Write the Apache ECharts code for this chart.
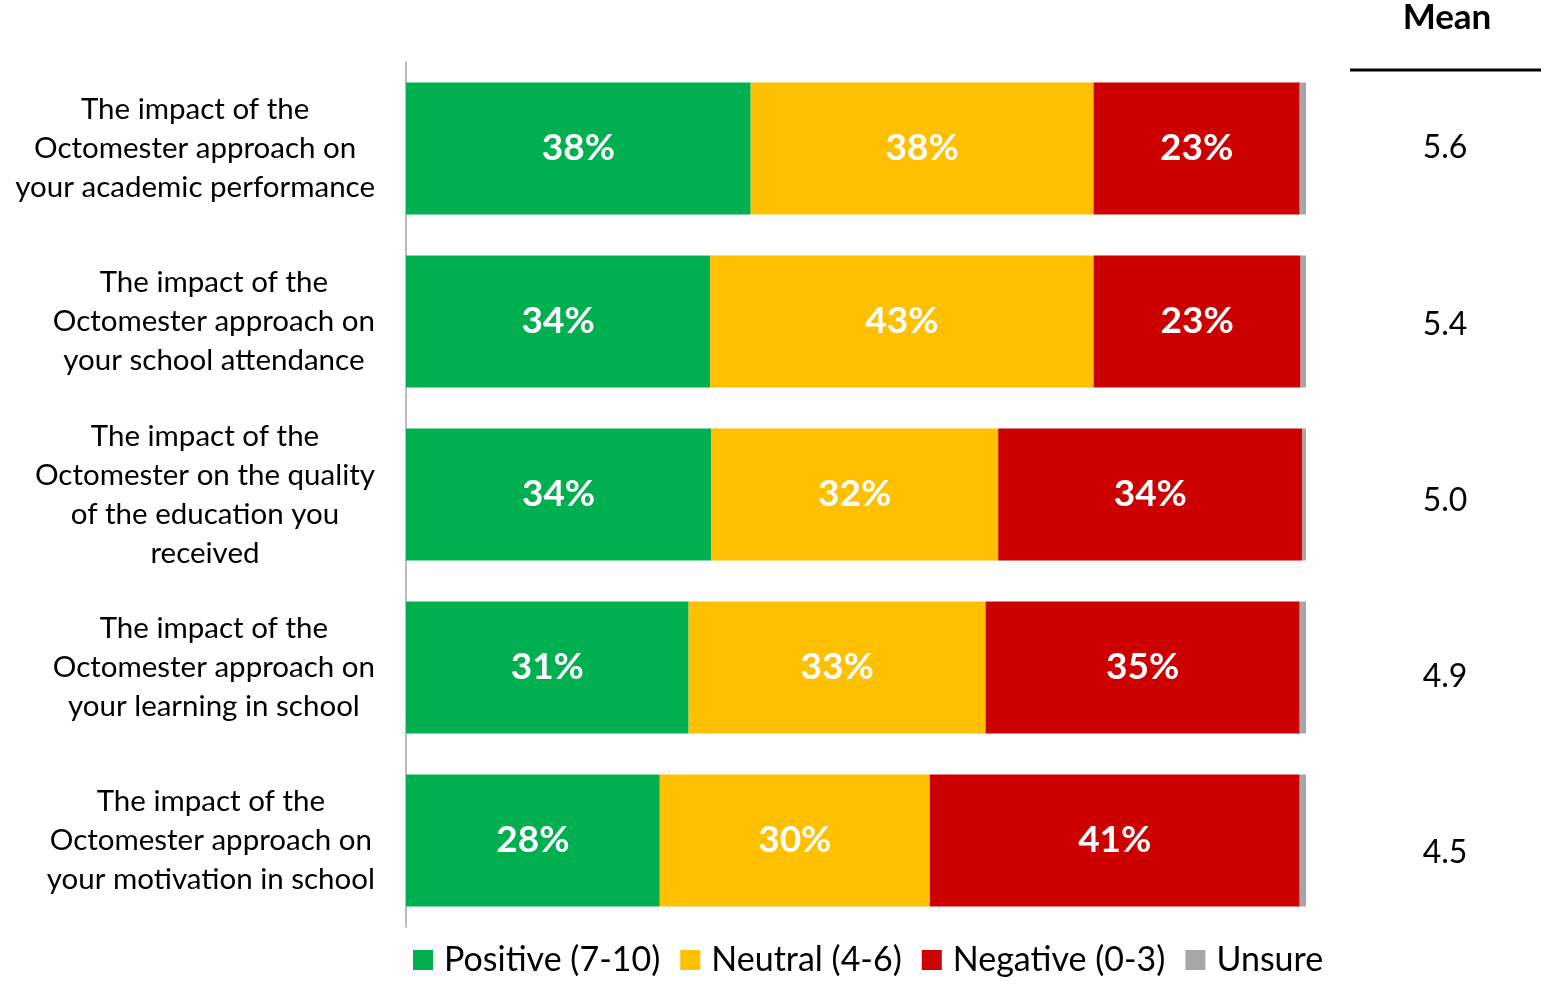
<!DOCTYPE html>
<html><head><meta charset="utf-8">
<script src="https://cdn.jsdelivr.net/npm/echarts@6/dist/echarts.min.js"></script>
<style>html,body{margin:0;padding:0;background:#fff}#c{width:1549px;height:987px}</style>
</head><body><div id="c"></div>
<script>
const categories = [
  "The impact of the\nOctomester approach on\nyour academic performance",
  "The impact of the\nOctomester approach on\nyour school attendance",
  "The impact of the\nOctomester on the quality\nof the education you\nreceived",
  "The impact of the\nOctomester approach on\nyour learning in school",
  "The impact of the\nOctomester approach on\nyour motivation in school"
];
const positive = [38.3, 33.8, 33.9, 31.4, 28.2];
const neutral  = [38.1, 42.6, 31.9, 33.0, 30.0];
const negative = [22.9, 23.0, 33.8, 34.9, 41.1];
const unsure   = [0.7, 0.6, 0.4, 0.7, 0.7];
const means    = [5.6, 5.4, 5.0, 4.9, 4.5];
const seriesNames = ["Positive (7-10)", "Neutral (4-6)", "Negative (0-3)", "Unsure"];
const colors = ["#00B050", "#FFC000", "#CC0000", "#A6A6A6"];
const FONT = "Lato";

const chart = echarts.init(document.getElementById('c'));
const barLabel = {
  show: true, position: 'inside', color: '#fff', fontWeight: 'bold',
  fontSize: 37, fontFamily: FONT,
  formatter: p => Math.round(p.value) + '%'
};
function barSeries(name, data, color, withLabel) {
  return {
    name, type: 'bar', stack: 'all', data, barCategoryGap: '23.7%',
    xAxisIndex: 0, yAxisIndex: 0,
    itemStyle: { color }, label: withLabel ? barLabel : { show: false },
    emphasis: { disabled: true }
  };
}
chart.setOption({
  animation: false,
  textStyle: { fontFamily: FONT },
  title: {
    text: 'Mean', left: 1442, top: -5, textAlign: 'center',
    textStyle: { fontSize: 35, fontWeight: 'bold', color: '#000', fontFamily: FONT }
  },
  graphic: [{
    type: 'line', shape: { x1: 1350, y1: 70, x2: 1541, y2: 70 },
    style: { stroke: '#000', lineWidth: 3 }
  }],
  legend: {
    data: seriesNames, left: 408, bottom: 5, itemWidth: 20, itemHeight: 20, itemGap: 20,
    icon: 'rect',
    textStyle: { fontSize: 34, color: '#000', fontFamily: FONT, padding: [0, 0, 0, 6] }
  },
  grid: [
    { left: 406, top: 62, width: 900, height: 865 },
    { left: 1350, top: 60, width: 191, height: 881 }
  ],
  xAxis: [
    { type: 'value', min: 0, max: 100, show: false, gridIndex: 0 },
    { type: 'value', min: 0, max: 1, show: false, gridIndex: 1 }
  ],
  yAxis: [
    {
      type: 'category', data: categories, inverse: true, gridIndex: 0,
      axisLine: { show: true, lineStyle: { color: '#A6A6A6', width: 1.5 } },
      axisTick: { show: false },
      axisLabel: {
        margin: 31, color: '#000', fontSize: 29.5, lineHeight: 39, fontFamily: FONT,
        formatter: v => v.split('\n').map(l => '{a|' + l + '}').join('\n'),
        rich: { a: { align: 'center', fontSize: 29.5, lineHeight: 39, fontFamily: FONT, color: '#000' } }
      }
    },
    {
      type: 'category', data: categories, inverse: true, gridIndex: 1,
      axisLine: { show: false }, axisTick: { show: false }, splitLine: { show: false },
      axisLabel: {
        inside: true, margin: 95, align: 'center', color: '#000', fontSize: 32, fontFamily: FONT,
        formatter: (v, i) => means[i].toFixed(1)
      }
    }
  ],
  series: [
    barSeries(seriesNames[0], positive, colors[0], true),
    barSeries(seriesNames[1], neutral, colors[1], true),
    barSeries(seriesNames[2], negative, colors[2], true),
    barSeries(seriesNames[3], unsure, colors[3], false)
  ]
});
</script></body></html>
